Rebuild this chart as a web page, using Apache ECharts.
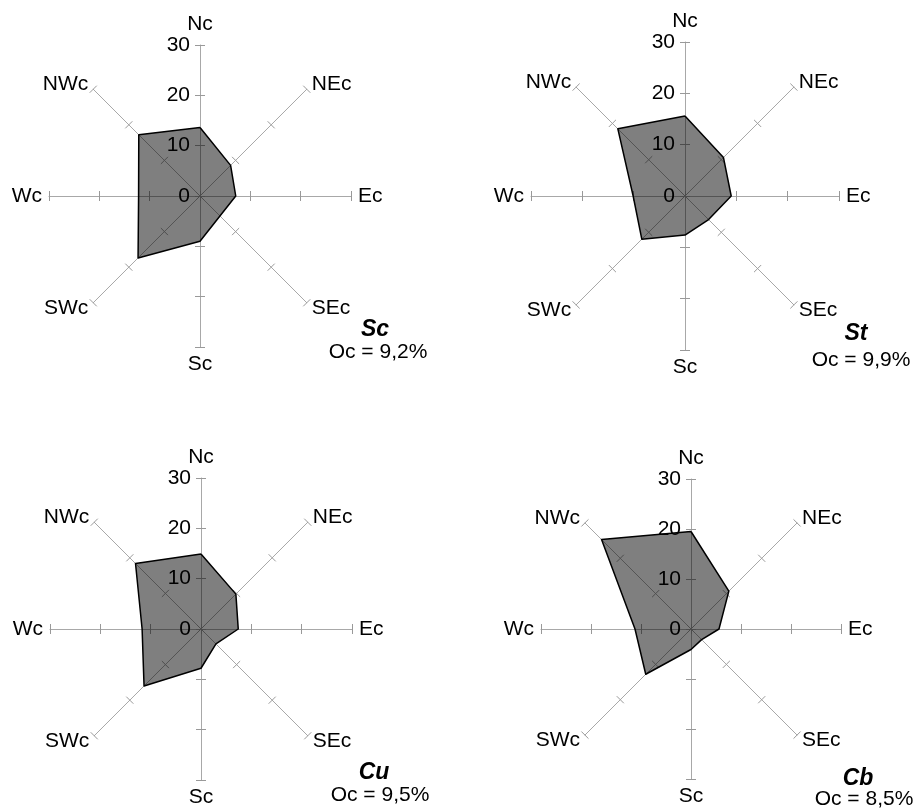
<!DOCTYPE html>
<html>
<head>
<meta charset="utf-8">
<script src="https://cdn.jsdelivr.net/npm/echarts@6/dist/echarts.min.js"></script>
<style>
html,body{margin:0;padding:0;background:#fff;}
#chart{width:916px;height:810px;}
</style>
</head>
<body>
<div id="chart"></div>
<script>
// Directions, counterclockwise from north (ECharts radar order)
var categories = ['Nc', 'NWc', 'Wc', 'SWc', 'Sc', 'SEc', 'Ec', 'NEc'];
var tickValues = [0, 10, 20, 30];
var cloudNames = ['Sc', 'St', 'Cu', 'Cb'];
var ocLabels = ['Oc = 9,2%', 'Oc = 9,9%', 'Oc = 9,5%', 'Oc = 8,5%'];
var valuesSc = [13.6, 17.2, 12.2, 17.4, 9.0, 5.6, 7.1, 8.6];
var valuesSt = [15.6, 18.5, 10.1, 11.9, 7.6, 6.5, 9.0, 10.6];
var valuesCu = [14.9, 18.4, 11.7, 16.0, 7.8, 4.2, 7.4, 9.8];
var valuesCb = [19.5, 25.3, 11.2, 12.8, 4.1, 3.0, 5.6, 10.7];
var allValues = [valuesSc, valuesSt, valuesCu, valuesCb];

// layout: [titleX, titleTop, subX, subTop]
var centers = [[200, 196], [685, 196], [201, 629], [691, 629]];
var radii = [151, 154, 151, 150];
var titlePos = [[375, 318, 378, 342], [856, 322, 861, 350], [374, 761, 380, 785], [858, 767, 864, 789]];

var FONT = 'Liberation Sans, Arial, sans-serif';
var axisMax = tickValues[tickValues.length - 1];
var axisMin = tickValues[0];

var radars = [];
var series = [];
var titles = [];
allValues.forEach(function (vals, k) {
  var indOuter = categories.map(function (c, i) {
    return { name: c, min: axisMin, max: axisMax, axisLabel: { show: i === 0 } };
  });
  radars.push({
    center: centers[k], radius: radii[k], startAngle: 90, splitNumber: tickValues.length - 1,
    shape: 'polygon',
    indicator: indOuter,
    axisName: { show: true, color: '#000', fontSize: 21, fontFamily: FONT },
    nameGap: 7,
    axisLine: { show: true, lineStyle: { color: '#a8a8a8', width: 1 } },
    axisTick: { show: true, length: 5, lineStyle: { color: '#999', width: 1 } },
    axisLabel: { show: false, fontSize: 21, color: '#000', fontFamily: FONT, margin: 10 },
    splitLine: { show: false },
    splitArea: { show: false }
  });
  radars.push({
    center: centers[k], radius: radii[k], startAngle: 90, splitNumber: tickValues.length - 1,
    shape: 'polygon',
    indicator: categories.map(function (c) { return { name: c, min: axisMin, max: axisMax }; }),
    axisName: { show: false },
    axisLine: { show: false },
    axisTick: { show: true, length: -5, lineStyle: { color: '#999', width: 1 } },
    axisLabel: { show: false },
    splitLine: { show: false },
    splitArea: { show: false }
  });
  series.push({
    type: 'radar', radarIndex: k * 2, symbol: 'none', silent: true,
    lineStyle: { color: '#000', width: 1.5 },
    areaStyle: { color: 'rgba(0,0,0,0.5)', opacity: 1 },
    data: [{ value: vals, name: cloudNames[k] }]
  });
  titles.push({
    text: cloudNames[k], left: titlePos[k][0], top: titlePos[k][1], textAlign: 'center',
    padding: 0,
    textStyle: { fontSize: 23, fontStyle: 'italic', fontWeight: 'bold', color: '#000', fontFamily: FONT }
  });
  titles.push({
    text: ocLabels[k], left: titlePos[k][2], top: titlePos[k][3], textAlign: 'center',
    padding: 0,
    textStyle: { fontSize: 21, fontWeight: 'normal', color: '#000', fontFamily: FONT }
  });
});

var chart = echarts.init(document.getElementById('chart'), null, { renderer: 'canvas' });
chart.setOption({
  animation: false,
  backgroundColor: '#fff',
  title: titles,
  radar: radars,
  series: series
});
</script>
</body>
</html>
